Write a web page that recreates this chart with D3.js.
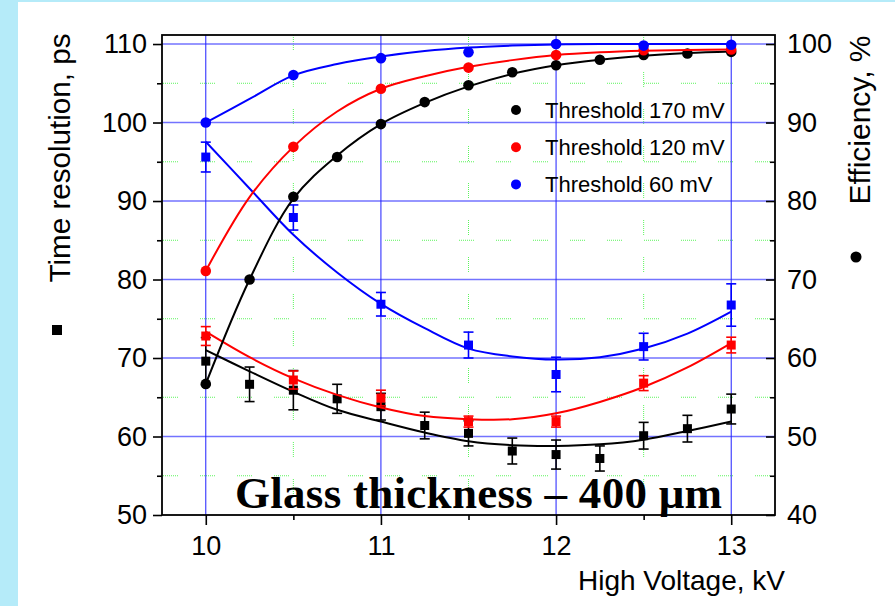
<!DOCTYPE html>
<html>
<head>
<meta charset="utf-8">
<script src="https://cdn.jsdelivr.net/npm/d3@7"></script>
<style>
  html, body { margin: 0; padding: 0; background: #ffffff; }
  svg { display: block; }
</style>
</head>
<body>
<svg id="chart" width="895" height="606"></svg>
<script>
// High voltage settings (kV)
const hvFine = [10, 10.25, 10.5, 10.75, 11, 11.25, 11.5, 11.75, 12, 12.25, 12.5, 12.75, 13];
const hvCoarse = [10, 10.5, 11, 11.5, 12, 12.5, 13];

// Efficiency, % (circles)
const eff170 = [56.7, 70.0, 80.55, 85.6, 89.8, 92.6, 94.75, 96.4, 97.3, 98.0, 98.6, 98.8, 99.0];
const eff120 = [71.1, 86.9, 94.3, 97.0, 98.6, 99.2, 99.3];
const eff60  = [90.0, 96.05, 98.2, 98.95, 100.0, 99.8, 99.9];

// Efficiency fit curves, %
const effFit170 = [56.7, 70.0, 80.3, 85.8, 89.8, 92.5, 94.6, 96.2, 97.3, 98.0, 98.5, 98.85, 99.05];
const effFit120 = [71.1, 80.5, 86.9, 91.4, 94.3, 95.9, 97.1, 97.95, 98.6, 98.95, 99.15, 99.25, 99.3];
const effFit60  = [90.0, 93.0, 96.0, 97.45, 98.4, 99.1, 99.55, 99.8, 99.95, 100, 100, 100, 100];

// Time resolution, ps (squares) and errors
const time170 = [69.6, 66.65, 65.9, 64.8, 63.8, 61.4, 60.4, 58.15, 57.7, 57.2, 60.1, 61.0, 63.5];
const err170  = [3.0, 2.2, 2.5, 1.85, 1.7, 1.7, 1.6, 1.65, 1.85, 1.6, 1.7, 1.7, 1.9];
const time120 = [72.8, 67.2, 64.9, 61.9, 61.9, 66.8, 71.65];
const err120  = [1.2, 1.15, 1.0, 0.7, 0.7, 0.95, 1.0];
const time60  = [95.6, 87.9, 76.85, 71.65, 67.9, 71.45, 76.75];
const err60   = [1.9, 1.6, 1.5, 1.65, 2.2, 1.7, 2.7];

// Time resolution fit curves, ps
const timeFit170 = [71.0, 68.3, 65.7, 63.4, 61.9, 60.5, 59.4, 58.9, 58.8, 59.0, 59.6, 60.7, 61.9];
const timeFit120 = [73.35, 70.1, 67.4, 65.3, 63.7, 62.6, 62.2, 62.2, 62.95, 64.4, 66.3, 68.8, 71.9];
const timeFit60  = [97.55, 91.6, 85.7, 80.9, 76.9, 73.8, 71.2, 70.2, 69.8, 70.1, 71.2, 73.1, 75.9];

// Labels and ticks
const legendLabels = ["Threshold 170 mV", "Threshold 120 mV", "Threshold 60 mV"];
const seriesColors = ["#000000", "#ff0000", "#0000ff"];
const timeTicks = [50, 60, 70, 80, 90, 100, 110];
const timeMinor = [55, 65, 75, 85, 95, 105];
const effTicks = [40, 50, 60, 70, 80, 90, 100];
const effMinor = [45, 55, 65, 75, 85, 95];
const hvTicks = [10, 11, 12, 13];
const hvMinor = [10.5, 11.5, 12.5];
const titleText = "Glass thickness \u2013 400 \u03bcm";
const yLeftTitle = "Time resolution, ps";
const yRightTitle = "Efficiency, %";
const xTitle = "High Voltage, kV";

const W = 895, H = 606;
const plot = { left: 162, right: 775, top: 35, bottom: 515 };
const sansFont = "'Liberation Sans', Arial, sans-serif";

const svg = d3.select("#chart");

// page background with side band
svg.append("rect").attr("width", W).attr("height", H).attr("fill", "#b5ebf9");
svg.append("rect").attr("x", 18).attr("y", 2).attr("width", W - 18).attr("height", H - 2).attr("fill", "#ffffff");

const x = d3.scaleLinear().domain([9.75, 13.25]).range([plot.left, plot.right]);
const yL = d3.scaleLinear().domain([50, 111.15]).range([plot.bottom, plot.top]);
const yR = d3.scaleLinear().domain([40, 101.15]).range([plot.bottom, plot.top]);

// minor grid (dotted green segments)
const dotPattern = "1,1,1,1,1,1,1,1,1,1,1,1,1,1,1,22";
const grid = svg.append("g");
grid.selectAll("line.hminor").data(timeMinor).join("line")
  .attr("x1", plot.left + 1).attr("x2", plot.right)
  .attr("y1", d => yL(d)).attr("y2", d => yL(d))
  .attr("stroke", "#5cf55c").attr("stroke-width", 1)
  .attr("stroke-dasharray", dotPattern);
grid.selectAll("line.vminor").data(hvMinor).join("line")
  .attr("x1", d => x(d)).attr("x2", d => x(d))
  .attr("y1", plot.top).attr("y2", plot.bottom)
  .attr("stroke", "#5cf55c").attr("stroke-width", 1)
  .attr("stroke-dasharray", dotPattern);
// major grid
grid.selectAll("line.hmajor").data(timeTicks.filter(d => d > 50)).join("line")
  .attr("x1", plot.left).attr("x2", plot.right)
  .attr("y1", d => yL(d)).attr("y2", d => yL(d))
  .attr("stroke", "#7373ff").attr("stroke-width", 1.6);
grid.selectAll("line.vmajor").data(hvTicks).join("line")
  .attr("x1", d => x(d)).attr("x2", d => x(d))
  .attr("y1", plot.top).attr("y2", plot.bottom)
  .attr("stroke", "#1f1fff").attr("stroke-width", 1);

// axes
function styleAxis(g) {
  g.select(".domain").remove();
  g.selectAll(".tick line").attr("stroke", "#000").attr("stroke-width", 1.6);
  g.selectAll(".tick text").attr("fill", "#000").style("font-family", sansFont).style("font-size", "27px");
}
svg.append("g").attr("transform", `translate(${plot.left},0)`)
  .call(d3.axisLeft(yL).tickValues(timeTicks).tickFormat(d3.format("d")).tickSize(9).tickPadding(6))
  .call(styleAxis);
svg.append("g").attr("transform", `translate(${plot.left},0)`)
  .call(d3.axisLeft(yL).tickValues(timeMinor).tickFormat("").tickSize(5))
  .call(styleAxis);
svg.append("g").attr("transform", `translate(${plot.right},0)`)
  .call(d3.axisRight(yR).tickValues(effTicks).tickFormat(d3.format("d")).tickSizeInner(-9).tickSizeOuter(0).tickPadding(12))
  .call(styleAxis);
svg.append("g").attr("transform", `translate(${plot.right},0)`)
  .call(d3.axisRight(yR).tickValues(effMinor).tickFormat("").tickSizeInner(-5).tickSizeOuter(0))
  .call(styleAxis);
svg.append("g").attr("transform", `translate(0,${plot.bottom})`)
  .call(d3.axisBottom(x).tickValues(hvTicks).tickFormat(d3.format("d")).tickSize(10).tickPadding(11))
  .call(styleAxis);
svg.append("g").attr("transform", `translate(0,${plot.bottom})`)
  .call(d3.axisBottom(x).tickValues(hvMinor).tickFormat("").tickSize(5))
  .call(styleAxis);

// frame
svg.append("rect")
  .attr("x", plot.left).attr("y", plot.top)
  .attr("width", plot.right - plot.left).attr("height", plot.bottom - plot.top)
  .attr("fill", "none").attr("stroke", "#000").attr("stroke-width", 1.8);

const curve = d3.curveCatmullRom.alpha(0.5);

// time resolution series
const timeSeries = [
  { hv: hvFine, val: time170, err: err170, fit: timeFit170, color: seriesColors[0] },
  { hv: hvCoarse, val: time120, err: err120, fit: timeFit120, color: seriesColors[1] },
  { hv: hvCoarse, val: time60, err: err60, fit: timeFit60, color: seriesColors[2] }
];
const lineL = d3.line().x(d => x(d[0])).y(d => yL(d[1])).curve(curve);
timeSeries.forEach(s => {
  const g = svg.append("g");
  g.append("path").datum(d3.zip(hvFine, s.fit)).attr("d", lineL)
    .attr("fill", "none").attr("stroke", s.color).attr("stroke-width", 2);
  const pts = d3.zip(s.hv, s.val, s.err);
  const eb = g.selectAll("g.eb").data(pts).join("g");
  eb.append("line").attr("x1", d => x(d[0])).attr("x2", d => x(d[0]))
    .attr("y1", d => yL(d[1] + d[2])).attr("y2", d => yL(d[1] - d[2]))
    .attr("stroke", s.color).attr("stroke-width", 1.6);
  [1, -1].forEach(sg => {
    eb.append("line").attr("x1", d => x(d[0]) - 5).attr("x2", d => x(d[0]) + 5)
      .attr("y1", d => yL(d[1] + sg * d[2])).attr("y2", d => yL(d[1] + sg * d[2]))
      .attr("stroke", s.color).attr("stroke-width", 1.6);
  });
  g.selectAll("rect.sq").data(pts).join("rect")
    .attr("x", d => x(d[0]) - 4.5).attr("y", d => yL(d[1]) - 4.5)
    .attr("width", 9).attr("height", 9).attr("fill", s.color);
});

// efficiency series
const effSeries = [
  { hv: hvFine, val: eff170, fit: effFit170, color: seriesColors[0] },
  { hv: hvCoarse, val: eff120, fit: effFit120, color: seriesColors[1] },
  { hv: hvCoarse, val: eff60, fit: effFit60, color: seriesColors[2] }
];
const lineR = d3.line().x(d => x(d[0])).y(d => yR(d[1])).curve(curve);
effSeries.forEach(s => {
  const g = svg.append("g");
  g.append("path").datum(d3.zip(hvFine, s.fit)).attr("d", lineR)
    .attr("fill", "none").attr("stroke", s.color).attr("stroke-width", 2);
  g.selectAll("circle").data(d3.zip(s.hv, s.val)).join("circle")
    .attr("cx", d => x(d[0])).attr("cy", d => yR(d[1])).attr("r", 5.3)
    .attr("fill", s.color);
});

// legend
const leg = svg.append("g");
legendLabels.forEach((lab, i) => {
  const by = 117.5 + i * 37.2;
  leg.append("circle").attr("cx", 516).attr("cy", by - 7.5).attr("r", 5).attr("fill", seriesColors[i]);
  leg.append("text").attr("x", 545).attr("y", by).text(lab)
    .style("font-family", sansFont).style("font-size", "22px").attr("fill", "#000");
});

// axis titles
svg.append("text").attr("transform", "translate(70,158) rotate(-90)")
  .attr("text-anchor", "middle").text(yLeftTitle)
  .style("font-family", sansFont).style("font-size", "29.6px").attr("fill", "#000");
svg.append("rect").attr("x", 52).attr("y", 325).attr("width", 10).attr("height", 10).attr("fill", "#000");

svg.append("text").attr("transform", "translate(870,120) rotate(-90)")
  .attr("text-anchor", "middle").text(yRightTitle)
  .style("font-family", sansFont).style("font-size", "30px").attr("fill", "#000");
svg.append("circle").attr("cx", 856).attr("cy", 257).attr("r", 5.5).attr("fill", "#000");

svg.append("text").attr("x", 785).attr("y", 590).attr("text-anchor", "end").text(xTitle)
  .style("font-family", sansFont).style("font-size", "28px").attr("fill", "#000");

// annotation
svg.append("text").attr("x", 235).attr("y", 508).text(titleText)
  .attr("textLength", 487).attr("lengthAdjust", "spacing")
  .style("font-family", "'Liberation Serif', 'DejaVu Serif', serif")
  .style("font-weight", "bold").style("font-size", "45px").attr("fill", "#000");
</script>
</body>
</html>
